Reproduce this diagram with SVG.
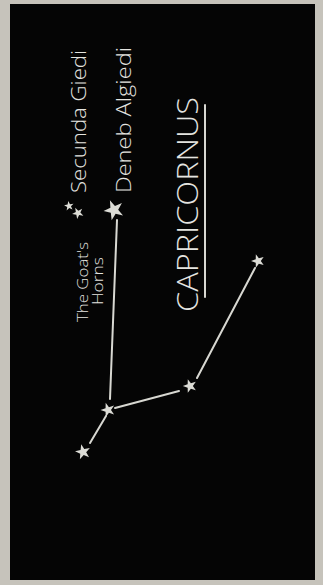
<svg xmlns="http://www.w3.org/2000/svg" width="323" height="585" viewBox="0 0 323 585">
  <style>
    .txt { fill: #e4e4e0; font-family: "Open Sans", "DejaVu Sans", sans-serif; font-weight: 300; }
    .line { stroke: #d8d8d2; stroke-width: 2; stroke-linecap: round; fill: none; }
    .star { fill: #dcdcd6; }
  </style>
  <defs>
    <path id="star" d="M0,-10 L2.35,-3.24 L9.51,-3.09 L3.80,1.24 L5.88,8.09 L0,4 L-5.88,8.09 L-3.80,1.24 L-9.51,-3.09 L-2.35,-3.24Z"/>
  </defs>
  <rect x="0" y="0" width="323" height="585" fill="#c6c3bb"/>
  <rect x="10" y="4" width="305" height="576" fill="#050505"/>

  <g id="connectors">
    <line class="line" x1="117" y1="220" x2="110" y2="399"/>
    <line class="line" x1="106" y1="416" x2="90" y2="443"/>
    <line class="line" x1="115" y1="408" x2="179" y2="391"/>
    <line class="line" x1="197" y1="378" x2="255" y2="268"/>
  </g>

  <g id="secunda-giedi">
    <use href="#star" class="star" transform="translate(69,206) rotate(-80) scale(0.5)"/>
    <use href="#star" class="star" transform="translate(78,213) rotate(-100) scale(0.6)"/>
    <text class="txt" font-size="20" transform="translate(86,193) rotate(-90)" textLength="143" lengthAdjust="spacingAndGlyphs">Secunda Giedi</text>
  </g>

  <g id="deneb-algiedi">
    <use href="#star" class="star" transform="translate(114,210) rotate(-95) scale(1.05)"/>
    <text class="txt" font-size="20" transform="translate(131,193) rotate(-90)" textLength="146" lengthAdjust="spacingAndGlyphs">Deneb Algiedi</text>
  </g>

  <g id="goats-horns">
    <text class="txt" font-size="14" transform="translate(88,322) rotate(-90)" textLength="80" lengthAdjust="spacingAndGlyphs">The Goat's</text>
    <text class="txt" font-size="14" transform="translate(103,305) rotate(-90)" textLength="48" lengthAdjust="spacingAndGlyphs">Horns</text>
  </g>

  <g id="title">
    <text class="txt" font-size="29" transform="translate(198,312) rotate(-90)" textLength="215" lengthAdjust="spacingAndGlyphs">CAPRICORNUS</text>
    <line class="line" x1="205" y1="105" x2="205" y2="297"/>
  </g>

  <g id="star-a">
    <use href="#star" class="star" transform="translate(108,410) rotate(-90) scale(0.75)"/>
  </g>
  <g id="star-b">
    <use href="#star" class="star" transform="translate(83,452) rotate(-85) scale(0.8)"/>
  </g>
  <g id="star-c">
    <use href="#star" class="star" transform="translate(190,386) rotate(-90) scale(0.72)"/>
  </g>
  <g id="star-d">
    <use href="#star" class="star" transform="translate(258,261) rotate(-90) scale(0.7)"/>
  </g>
</svg>
